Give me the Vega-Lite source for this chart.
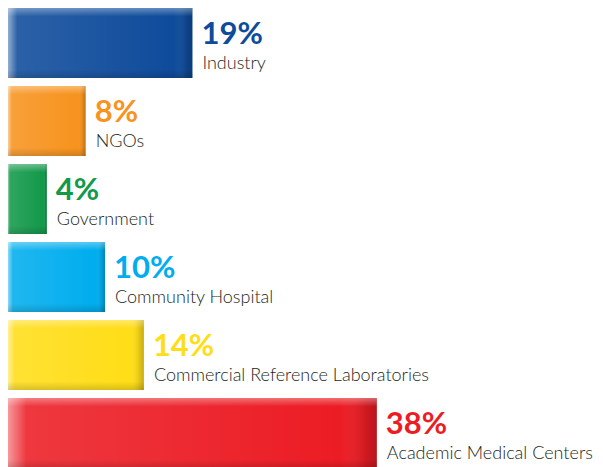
{
  "$schema": "https://vega.github.io/schema/vega-lite/v6.json",
  "width": 603,
  "height": 467,
  "padding": 0,
  "autosize": {"type": "none"},
  "background": "white",
  "config": {"view": {"stroke": null}},
  "data": {
    "values": [
      {"category": "Industry", "share": 0.19},
      {"category": "NGOs", "share": 0.08},
      {"category": "Government", "share": 0.04},
      {"category": "Community Hospital", "share": 0.10},
      {"category": "Commercial Reference Laboratories", "share": 0.14},
      {"category": "Academic Medical Centers", "share": 0.38}
    ]
  },
  "encoding": {
    "y": {
      "field": "category",
      "type": "nominal",
      "sort": null,
      "axis": null,
      "scale": {"range": [8, 468], "paddingInner": 0.1026, "paddingOuter": 0}
    },
    "x": {
      "field": "share",
      "type": "quantitative",
      "axis": null,
      "scale": {"domain": [0, 0.613], "range": [8, 603], "nice": false, "zero": true}
    }
  },
  "layer": [
    {
      "mark": {"type": "bar"},
      "encoding": {
        "color": {
          "field": "category",
          "type": "nominal",
          "legend": null,
          "scale": {
            "domain": ["Industry", "NGOs", "Government", "Community Hospital", "Commercial Reference Laboratories", "Academic Medical Centers"],
            "range": ["#0e4b9b", "#f7931e", "#13994a", "#00adee", "#ffdd17", "#ec1c24"]
          }
        }
      }
    },
    {
      "mark": {
        "type": "bar",
        "fill": {
          "gradient": "linear", "x1": 0, "y1": 0, "x2": 1, "y2": 0,
          "stops": [
            {"offset": 0, "color": "rgba(255,255,255,0.55)"},
            {"offset": 0.05, "color": "rgba(255,255,255,0.12)"},
            {"offset": 0.9, "color": "rgba(255,255,255,0)"},
            {"offset": 0.97, "color": "rgba(0,0,0,0.12)"},
            {"offset": 1, "color": "rgba(0,0,0,0.22)"}
          ]
        }
      },
      "encoding": {}
    },
    {
      "mark": {
        "type": "bar",
        "fill": {
          "gradient": "linear", "x1": 0, "y1": 0, "x2": 0, "y2": 1,
          "stops": [
            {"offset": 0, "color": "rgba(255,255,255,0.35)"},
            {"offset": 0.12, "color": "rgba(255,255,255,0)"},
            {"offset": 0.88, "color": "rgba(0,0,0,0)"},
            {"offset": 1, "color": "rgba(0,0,0,0.15)"}
          ]
        }
      },
      "encoding": {}
    },
    {
      "mark": {"type": "text", "align": "left", "baseline": "alphabetic", "dx": 9, "dy": 1, "font": "Lato", "fontSize": 31, "fontWeight": "bold"},
      "encoding": {
        "text": {"field": "share", "type": "quantitative", "format": ".0%"},
        "color": {
          "field": "category",
          "type": "nominal",
          "legend": null,
          "scale": {
            "domain": ["Industry", "NGOs", "Government", "Community Hospital", "Commercial Reference Laboratories", "Academic Medical Centers"],
            "range": ["#1a52a0", "#e98a1f", "#1a8d47", "#1ba3dc", "#c9a024", "#e4232c"]
          }
        }
      }
    },
    {
      "mark": {"type": "text", "align": "left", "baseline": "alphabetic", "dx": 10, "dy": 26, "font": "Lato", "fontSize": 18, "fontWeight": 300, "color": "#231f20"},
      "encoding": {
        "text": {"field": "category", "type": "nominal"}
      }
    }
  ]
}
